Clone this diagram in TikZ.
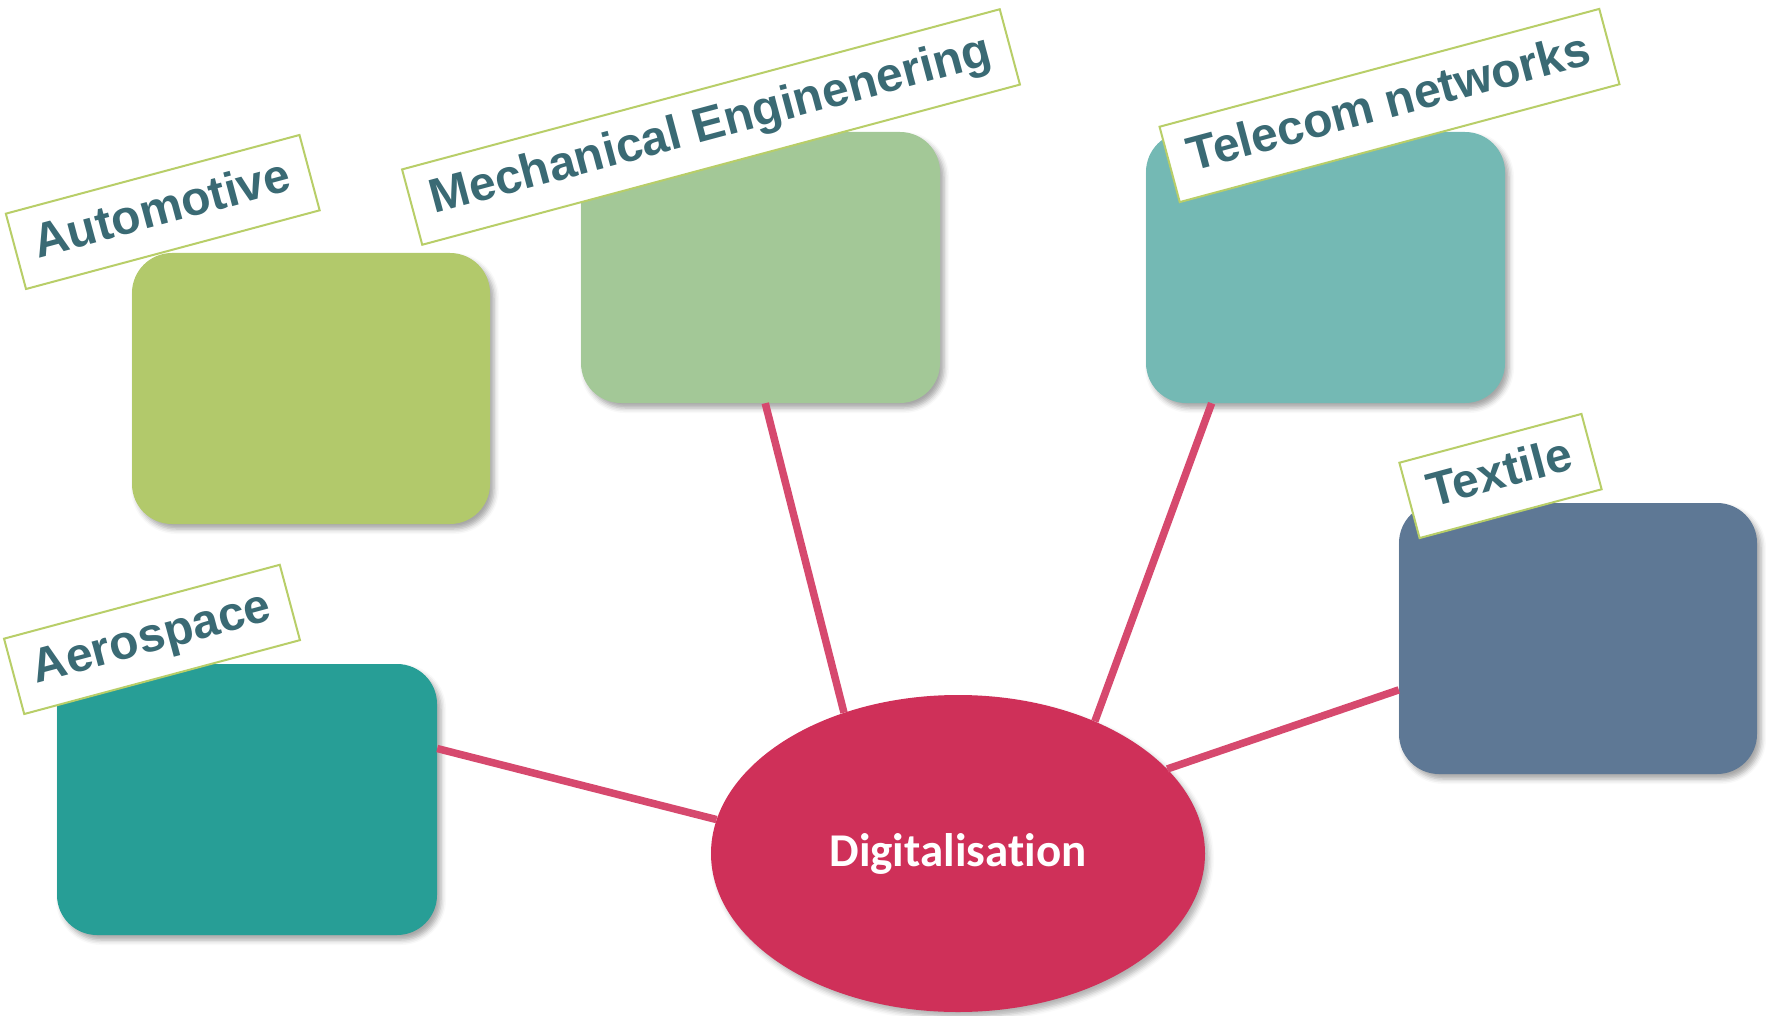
\documentclass[tikz,border=0pt]{standalone}
\usepackage{fontspec}
\setmainfont{Liberation Sans}
\newfontfamily\digfont[Ligatures={NoCommon,NoContextual}]{Carlito}
\usetikzlibrary{shapes, shadows.blur}

\definecolor{autogreen}{RGB}{178,201,107}
\definecolor{mechgreen}{RGB}{163,200,151}
\definecolor{teleteal}{RGB}{116,185,180}
\definecolor{textileblue}{RGB}{94,120,149}
\definecolor{aeroteal}{RGB}{39,158,150}
\definecolor{digitred}{RGB}{207,48,89}
\definecolor{linkpink}{RGB}{214,73,110}
\definecolor{tagline}{RGB}{184,206,104}
\definecolor{tagtext}{RGB}{58,106,116}

\begin{document}
\begin{tikzpicture}[x=1pt, y=-1pt,
    field/.style={rectangle, rounded corners=40pt, inner sep=0pt, minimum height=271pt,
        blur shadow={shadow xshift=4pt, shadow yshift=-5pt, shadow blur radius=5pt, shadow opacity=35}},
    tag/.style={rectangle, draw=tagline, line width=2pt, fill=white, rotate=15,
        inner xsep=20pt, inner ysep=16.5pt, text height=35pt, text depth=10pt,
        text=tagtext, font=\fontsize{48}{56}\selectfont\bfseries},
    link/.style={draw=linkpink, line width=7.5pt}]
    \useasboundingbox (0,0) rectangle (1766,1016);

    % Nodes
    \node (auto) [field, fill=autogreen, minimum width=358pt] at (311,388.5) {};
    \node (mech) [field, fill=mechgreen, minimum width=359pt] at (760.5,267.5) {};
    \node (tele) [field, fill=teleteal, minimum width=359pt] at (1325.5,267.5) {};
    \node (textile) [field, fill=textileblue, minimum width=358pt] at (1578,638.5) {};
    \node (aero) [field, fill=aeroteal, minimum width=380pt] at (247,799.5) {};
    \node (digit) [ellipse, fill=digitred, minimum width=494pt, minimum height=317pt, inner sep=0pt,
        text=white, font=\digfont\fontsize{47}{56}\selectfont\bfseries,
        blur shadow={shadow xshift=4pt, shadow yshift=-5pt, shadow blur radius=5pt, shadow opacity=30}] at (958,853.5) {Digitalisat\kern0pt ion};

    % Edges
    \draw[link] (mech.-88.5) -- (digit.129.8);
    \draw[link] (tele.-130.5) -- (digit.44.5);
    \draw[link] (textile.196) -- (digit.22.6);
    \draw[link] (aero.15.6) -- (digit.172);

    % Labels
    \node (autotag) [tag] at (162.75,212) {Automotive};
    \node (mechtag) [tag] at (711,127) {Mechanical Enginenering};
    \node (teletag) [tag] at (1389.5,105.5) {Telecom networks};
    \node (textiletag) [tag] at (1500.5,476) {Textile};
    \node (aerotag) [tag] at (152,639.4) {Aerospace};
\end{tikzpicture}
\end{document}
